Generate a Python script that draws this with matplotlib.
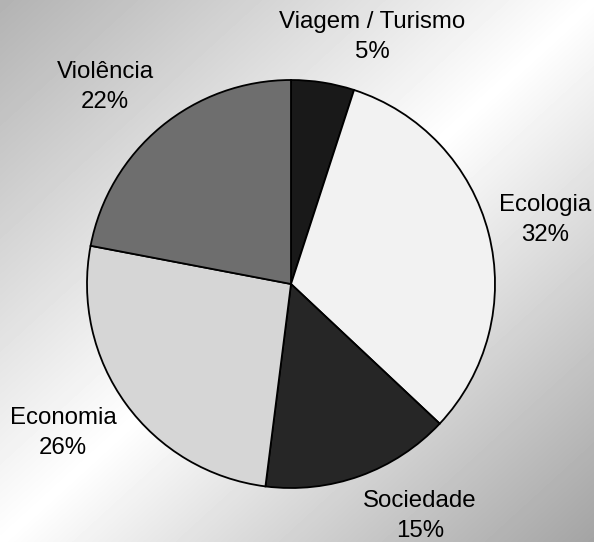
import numpy as np
import matplotlib
matplotlib.use("Agg")
import matplotlib.pyplot as plt

# Theme shares (percent), clockwise from 12 o'clock
categories = ["Viagem / Turismo", "Ecologia", "Sociedade", "Economia", "Violência"]
shares = [5, 32, 15, 26, 22]
fills = ["#191919", "#f2f2f2", "#262626", "#d6d6d6", "#6e6e6e"]

W, H, DPI = 594, 542, 100
CX, CY, R = 291, 284, 204          # pie centre (pixels from top-left) and radius
label_px = [(372, 37), (545, 220), (420, 516), (63, 433), (105, 87)]

plt.rcParams["font.family"] = ["Liberation Sans", "DejaVu Sans"]

fig = plt.figure(figsize=(W / DPI, H / DPI), dpi=DPI)
ax = fig.add_axes([0, 0, 1, 1])

# diagonal grey-white-grey backdrop
yy, xx = np.mgrid[0:H, 0:W]
v = xx / W + yy / H - 1.0
shade = np.where(v < 0, 1.0 - 0.30 * (-v), 1.0 - 0.36 * v)
ax.imshow(shade, cmap="gray", vmin=0, vmax=1, extent=(-CX, W - CX, CY - H, CY),
          zorder=0, interpolation="bilinear", aspect="auto")

wedges, _ = ax.pie(shares, colors=fills, startangle=90, counterclock=False,
                   radius=R, center=(0, 0), frame=True,
                   wedgeprops=dict(edgecolor="black", linewidth=1.3))
for w in wedges:
    w.set_zorder(2)
ax.set_xlim(-CX, W - CX)
ax.set_ylim(CY - H, CY)
ax.set_axis_off()

for name, pct, (px, py) in zip(categories, shares, label_px):
    ax.text(px - CX, CY - py, f"{name}\n{pct}%", ha="center", va="center",
            fontsize=17.3, linespacing=1.45, color="black", zorder=3)

fig.savefig("out.png", dpi=DPI)
